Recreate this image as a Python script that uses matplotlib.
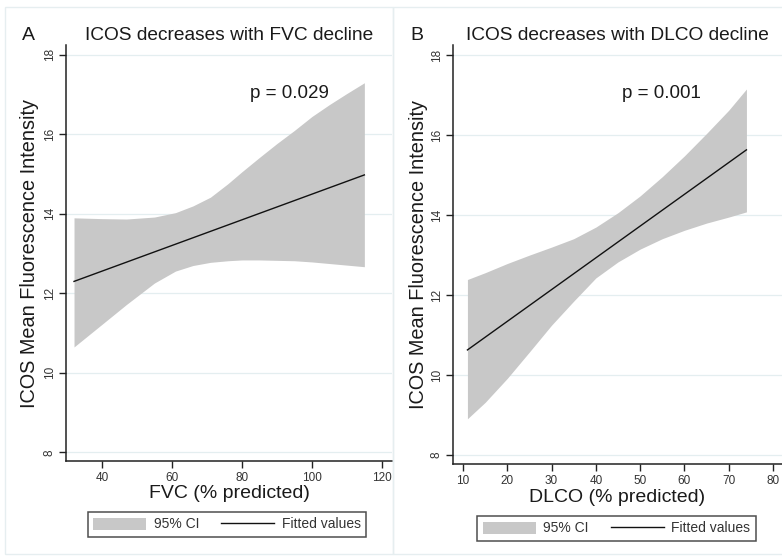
import matplotlib
matplotlib.use("Agg")
import matplotlib.pyplot as plt
from matplotlib.patches import Rectangle, Patch
from matplotlib.lines import Line2D

plt.rcParams['font.family'] = ['Liberation Sans', 'DejaVu Sans']

# Panel A: FVC
fvc_x = [32, 40, 47, 55, 61, 66, 71, 76, 80, 85, 90, 95, 100, 105, 110, 115]
fvc_upper = [13.90, 13.88, 13.87, 13.92, 14.03, 14.20, 14.42, 14.76, 15.06, 15.42,
             15.77, 16.10, 16.45, 16.75, 17.03, 17.30]
fvc_lower = [10.65, 11.22, 11.72, 12.26, 12.56, 12.70, 12.78, 12.82, 12.84, 12.84,
             12.83, 12.82, 12.79, 12.75, 12.71, 12.67]
fvc_fit_x = [32, 115]
fvc_fit_y = [12.30, 14.98]

# Panel B: DLCO
dlco_x = [11, 15, 20, 25, 30, 35, 40, 45, 50, 55, 60, 65, 70, 74]
dlco_upper = [12.39, 12.56, 12.79, 13.00, 13.20, 13.41, 13.70, 14.06, 14.48, 14.96,
              15.48, 16.04, 16.62, 17.15]
dlco_lower = [8.91, 9.32, 9.92, 10.58, 11.25, 11.85, 12.43, 12.83, 13.15, 13.41,
              13.62, 13.80, 13.95, 14.08]
dlco_fit_x = [11, 74]
dlco_fit_y = [10.63, 15.63]

yticks = [8, 10, 12, 14, 16, 18]

W, H = 782, 556
fig = plt.figure(figsize=(W / 100, H / 100), dpi=100)

band_col = '#c8c8c8'
grid_col = '#e4eef0'
txt_col = '#1a1a1a'

# faint panel outlines
for x0, x1 in [(5, 393), (393, 790)]:
    fig.patches.append(Rectangle((x0 / W, 1 - 554 / H), (x1 - x0) / W, (554 - 7) / H,
                                 transform=fig.transFigure, fill=False,
                                 edgecolor='#e6eef0', lw=1, zorder=0))


def panel(rect, x, lo, hi, fx, fy, xlim, xticks, xlabel, title, letter, ptxt, pxy,
          ylab_x, ypad, leg_xy):
    ax = fig.add_axes(rect)
    ax.patch.set_alpha(0)
    ax.fill_between(x, lo, hi, color=band_col, lw=0, zorder=2)
    ax.plot(fx, fy, color='#111111', lw=1.0, zorder=3)
    ax.set_xlim(*xlim)
    ax.set_ylim(7.78, 18.25)
    ax.set_yticks(yticks)
    ax.set_xticks(xticks)
    for v in yticks:
        ax.axhline(v, color=grid_col, lw=0.9, zorder=1)
    for s in ['top', 'right']:
        ax.spines[s].set_visible(False)
    for s in ['left', 'bottom']:
        ax.spines[s].set_linewidth(1.1)
        ax.spines[s].set_color('#222222')
    ax.tick_params(axis='both', direction='out', length=5, width=1.0,
                   color='#222222', labelsize=8.5, labelcolor='#333333')
    ax.tick_params(axis='y', labelrotation=90, pad=ypad)
    ax.tick_params(axis='x', pad=3)
    for lab in ax.get_yticklabels():
        lab.set_va('center')
    ax.set_xlabel(xlabel, fontsize=14, color=txt_col, labelpad=1)
    ax.set_ylabel('ICOS Mean Fluorescence Intensity', fontsize=14.3, color=txt_col)
    ax.yaxis.set_label_coords(ylab_x, 0.5)
    ax.set_title(title, fontsize=13.8, color=txt_col, pad=3.5)
    ax.text(pxy[0], pxy[1], ptxt, fontsize=13.5, color=txt_col, ha='center', va='center')
    fig.text(letter[1], letter[2], letter[0], fontsize=14, color=txt_col,
             ha='left', va='center')
    handles = [Patch(facecolor=band_col, edgecolor='none'),
               Line2D([], [], color='#111111', lw=1.0)]
    leg = fig.legend(handles, ['95% CI', 'Fitted values'], loc='center',
                     bbox_to_anchor=leg_xy, ncol=2, fontsize=10, frameon=True,
                     fancybox=False, edgecolor='#222222', handlelength=3.8,
                     handleheight=0.95, handletextpad=0.55, columnspacing=1.6,
                     borderpad=0.4, labelcolor='#333333')
    leg.get_frame().set_linewidth(1.1)
    return ax


panel([66 / W, 1 - 461 / H, (392 - 66) / W, (461 - 45) / H],
      fvc_x, fvc_lower, fvc_upper, fvc_fit_x, fvc_fit_y,
      (29.71, 122.9), [40, 60, 80, 100, 120], 'FVC (% predicted)',
      'ICOS decreases with FVC decline', ('A', 22 / W, 1 - 35 / H),
      'p = 0.029', (93.7, 17.02), -0.082, 2.5, (227 / W, 1 - 524.5 / H))

panel([453 / W, 1 - 464 / H, (782 - 453) / W, (464 - 45) / H],
      dlco_x, dlco_lower, dlco_upper, dlco_fit_x, dlco_fit_y,
      (7.74, 82.03), [10, 20, 30, 40, 50, 60, 70, 80], 'DLCO (% predicted)',
      'ICOS decreases with DLCO decline', ('B', 410 / W, 1 - 35 / H),
      'p = 0.001', (54.9, 17.05), -0.076, 2.5, (616.5 / W, 1 - 528.5 / H))

fig.savefig('out.png', dpi=100)
